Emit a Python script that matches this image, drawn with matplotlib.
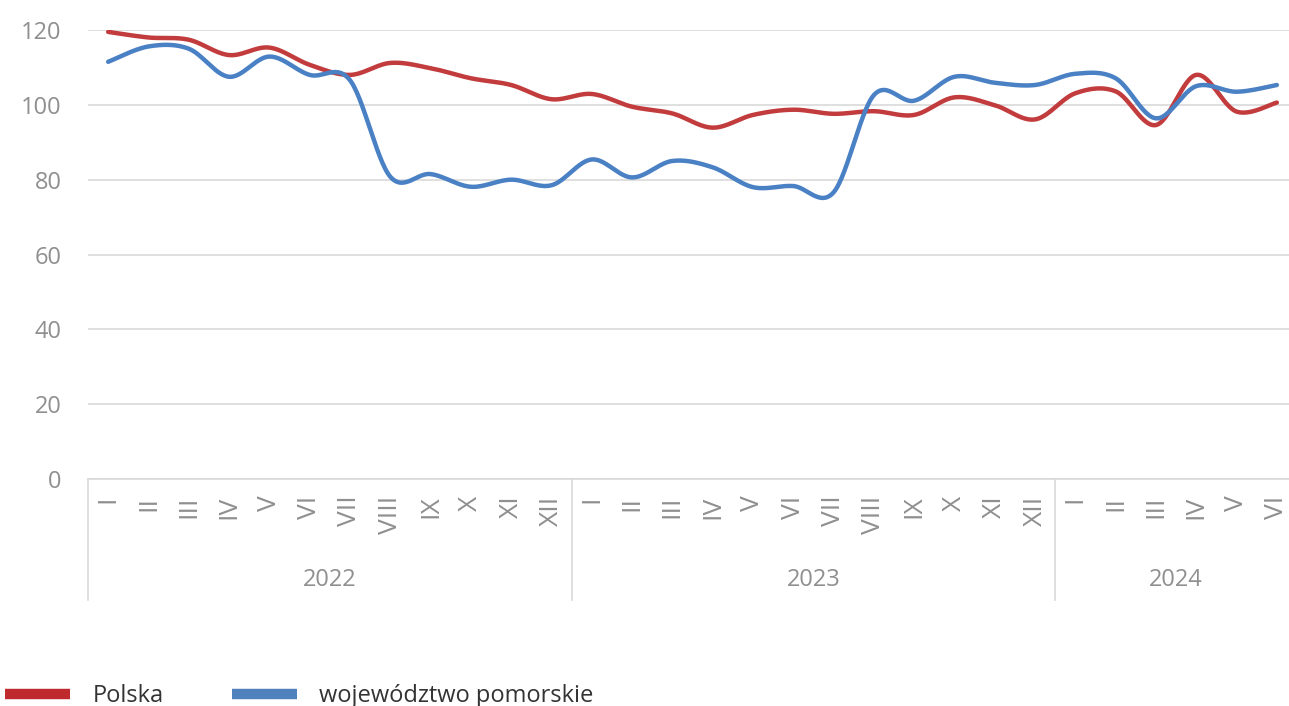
import numpy as np
import matplotlib
matplotlib.use("Agg")
import matplotlib.pyplot as plt
from matplotlib.lines import Line2D

# ---------------- data ----------------
months = ["I", "II", "III", "IV", "V", "VI", "VII", "VIII", "IX", "X", "XI", "XII",
          "I", "II", "III", "IV", "V", "VI", "VII", "VIII", "IX", "X", "XI", "XII",
          "I", "II", "III", "IV", "V", "VI"]
years = ["2022", "2023", "2024"]
months_per_year = [12, 12, 6]

polska = [119.5, 118.0, 117.4, 113.3, 115.3, 110.7, 108.0, 111.2, 109.8, 107.1,
          105.3, 101.5, 102.9, 99.5, 97.7, 93.9, 97.3, 98.7, 97.6, 98.3,
          97.3, 102.0, 99.9, 96.1, 103.1, 103.6, 94.6, 108.0, 98.2, 100.6]
pomorskie = [111.5, 115.6, 115.0, 107.5, 112.9, 108.0, 106.6, 80.8, 81.5, 78.1,
             80.0, 78.5, 85.4, 80.6, 85.0, 83.3, 78.0, 78.3, 76.6, 102.6,
             101.1, 107.5, 105.9, 105.3, 108.3, 107.1, 96.4, 105.0, 103.5, 105.3]

series_names = ["Polska", "województwo pomorskie"]
series_colors = ["#c23b3d", "#4a80c4"]
legend_colors = ["#be2a2e", "#4f81bd"]

# ---------------- helpers ----------------
def smooth(xs, ys, n=30):
    """Catmull-Rom style Bezier smoothing through the points (like Excel smoothed lines)."""
    xs = np.asarray(xs, float)
    ys = np.asarray(ys, float)
    P = np.column_stack([xs, ys])
    out = []
    m = len(P)
    t = np.linspace(0, 1, n, endpoint=False)
    for i in range(m - 1):
        p0 = P[i - 1] if i > 0 else P[i]
        p1 = P[i]
        p2 = P[i + 1]
        p3 = P[i + 2] if i + 2 < m else P[i + 1]
        c1 = p1 + (p2 - p0) / 6.0
        c2 = p2 - (p3 - p1) / 6.0
        seg = ((1 - t) ** 3)[:, None] * p1 + (3 * (1 - t) ** 2 * t)[:, None] * c1 \
            + (3 * (1 - t) * t ** 2)[:, None] * c2 + (t ** 3)[:, None] * p2
        out.append(seg)
    out.append(P[-1][None, :])
    out = np.vstack(out)
    return out[:, 0], out[:, 1]

# ---------------- figure ----------------
W, H = 1289, 706
fig = plt.figure(figsize=(W / 100, H / 100), dpi=100)
ax = fig.add_axes([88 / W, (H - 479) / H, 1209 / W, 449 / H])

font = "Open Sans"
gray = "#8f8f8f"
grid_col = "#d9d9d9"

x = np.arange(len(months))
for vals, col in zip([polska, pomorskie], series_colors):
    sx, sy = smooth(x, vals)
    ax.plot(sx, sy, color=col, lw=3.2, solid_capstyle="round", zorder=3)

ax.set_xlim(-0.5, len(months) - 0.5)
ax.set_ylim(0, 120)
ax.set_yticks(np.arange(0, 121, 20))
ax.yaxis.grid(True, color=grid_col, lw=1.2)
ax.set_axisbelow(True)
for s in ["top", "right", "left"]:
    ax.spines[s].set_visible(False)
ax.spines["bottom"].set_color(grid_col)
ax.spines["bottom"].set_linewidth(1.2)

ax.tick_params(axis="y", length=0, pad=19, labelsize=17, labelcolor=gray)
for lbl in ax.get_yticklabels():
    lbl.set_fontfamily(font)

ax.set_xticks(x)
ax.set_xticklabels(months, rotation=90, fontsize=19, color=gray, fontfamily=font,
                   va="top", ha="center")
ax.tick_params(axis="x", length=0, pad=12)

# multi-level category separators and year labels
trans = ax.get_xaxis_transform()
bottom = -(600 - 479) / 449
start = 0
bounds = [-0.5]
for n in months_per_year:
    bounds.append(start + n - 0.5)
    start += n
for b in bounds[:-1]:
    ax.plot([b, b], [0, bottom], color=grid_col, lw=1.2, transform=trans, clip_on=False)
start = 0
for yr, n in zip(years, months_per_year):
    cx = start + (n - 1) / 2
    ax.text(cx, -(580 - 479) / 449, yr, transform=trans, ha="center", va="center",
            fontsize=17, color=gray, fontfamily=font)
    start += n

# legend
handles = [Line2D([], [], color=c, lw=7.5, solid_capstyle="butt") for c in legend_colors]
fig.legend(handles, series_names, loc="center left", bbox_to_anchor=(0.004, 0.014),
           ncol=2, frameon=False, handlelength=2.75, handletextpad=0.95,
           columnspacing=2.9, prop={"family": font, "size": 17},
           labelcolor="#333333", borderaxespad=0, borderpad=0)

fig.savefig("out.png", dpi=100)
